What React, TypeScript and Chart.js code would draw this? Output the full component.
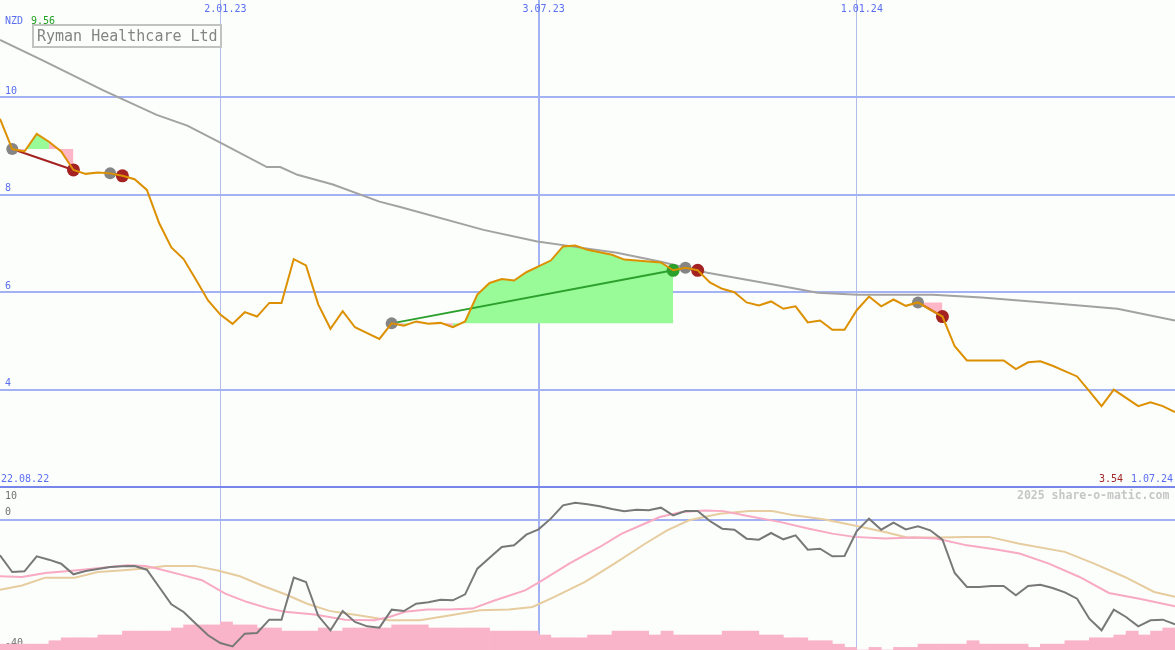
import React, { useEffect, useRef, useState } from 'react';
import { Chart, registerables } from 'chart.js';

Chart.register(...registerables);

// ---------- texts ----------
const currency = 'NZD';
const title = 'Ryman Healthcare Ltd';
const firstDate = '22.08.22';
const lastDate = '1.07.24';
const copyright = '2025 share-o-matic.com';

// ---------- weekly closing prices (week 0 = 22.08.22) ----------
const price = [
  9.56, 8.94, 8.89, 9.25, 9.09, 8.89, 8.51, 8.43, 8.46, 8.44,
  8.39, 8.32, 8.10, 7.42, 6.92, 6.68, 6.26, 5.83, 5.54, 5.35,
  5.59, 5.50, 5.78, 5.78, 6.68, 6.55, 5.75, 5.25, 5.61, 5.28,
  5.16, 5.04, 5.36, 5.31, 5.40, 5.35, 5.37, 5.28, 5.40, 5.95,
  6.19, 6.27, 6.24, 6.41, 6.53, 6.65, 6.94, 6.96, 6.87, 6.82,
  6.77, 6.67, 6.65, 6.63, 6.61, 6.45, 6.50, 6.45, 6.20, 6.07,
  6.00, 5.79, 5.73, 5.81, 5.66, 5.71, 5.38, 5.42, 5.23, 5.23,
  5.63, 5.91, 5.71, 5.85, 5.72, 5.79, 5.64, 5.50, 4.89, 4.60,
  4.60, 4.60, 4.60, 4.42, 4.56, 4.58, 4.49, 4.38, 4.27, 3.97,
  3.66, 4.00, 3.83, 3.66, 3.74, 3.66, 3.54,
];

// vertical grid lines (week index) and their date labels
const gridWeeks = [18, 44, 70];
const gridLabels = ['2.01.23', '3.07.23', '1.01.24'];
const priceTicks = [4, 6, 8, 10];

// long moving average (grey)
const maWeek = [0, 3.4, 8.4, 12.8, 15.3, 18.0, 21.8, 22.9, 24.3, 27.2, 31.0, 32.7, 39.5, 43.9, 47.6, 50.4, 53.9, 57.8, 63.4, 66.8, 70.1, 76.2, 80.2, 85.8, 91.3, 96];
const maValue = [11.18, 10.77, 10.15, 9.64, 9.42, 9.07, 8.57, 8.57, 8.41, 8.21, 7.86, 7.75, 7.28, 7.04, 6.91, 6.81, 6.63, 6.40, 6.15, 5.99, 5.95, 5.95, 5.89, 5.78, 5.66, 5.42];

// trades (week index of entry / exit)
const tradeEntry = [1, 9, 32, 56, 75];
const tradeExit = [6, 10, 55, 57, 77];

// ---------- lower panel ----------
const oscValue = [
  -10.96, -16.07, -15.87, -11.27, -12.29, -13.52, -16.79, -15.77, -15.15, -14.54,
  -14.34, -14.23, -15.36, -20.67, -25.99, -28.34, -31.92, -35.5, -37.85, -38.88,
  -34.99, -34.79, -30.7, -30.7, -17.81, -19.14, -29.5, -33.97, -28.04, -31.41,
  -32.74, -33.15, -27.63, -28.04, -25.79, -25.38, -24.56, -24.77, -22.92, -15.05,
  -11.68, -8.4, -7.89, -4.62, -2.99, 0.29, 4.38, 5.19, 4.68, 4.07,
  3.25, 2.54, 3.05, 2.84, 3.66, 1.31, 2.64, 2.64, -0.43, -2.78,
  -3.09, -5.85, -6.16, -4.11, -6.05, -4.83, -9.22, -8.92, -11.27, -11.17,
  -3.5, 0.29, -3.09, -0.94, -2.99, -2.07, -3.29, -6.16, -16.38, -20.67,
  -20.67, -20.37, -20.37, -23.23, -20.37, -19.96, -20.98, -22.31, -24.25, -30.39,
  -33.97, -27.63, -29.88, -32.74, -30.9, -30.7, -32.13,
];

const signalWeek = [0, 1.8, 3.7, 6.1, 8.6, 10.4, 11.9, 12.9, 14.7, 16.5, 18.4, 20.2, 22.0, 23.3, 25.7, 28.2, 30.6, 31.8, 33.1, 34.9, 36.7, 38.6, 40.4, 42.9, 44.1, 46.5, 49.0, 50.8, 52.7, 53.9, 55.7, 57.6, 59.1, 61.2, 63.7, 66.1, 68.0, 69.8, 72.3, 74.7, 76.5, 79.0, 81.4, 83.3, 85.7, 88.2, 90.6, 93.1, 96];
const signalValue = [-17.4, -17.6, -16.4, -15.6, -14.7, -14.0, -14.2, -15.1, -16.8, -18.6, -22.7, -25.3, -27.3, -28.3, -29.1, -30.7, -30.9, -29.9, -28.3, -27.6, -27.6, -27.3, -24.8, -21.7, -19.1, -13.5, -8.4, -4.3, -1.2, 0.8, 2.3, 2.8, 2.6, 1.0, -0.7, -2.8, -4.3, -5.3, -5.8, -5.5, -5.8, -7.9, -9.2, -10.4, -13.5, -17.6, -22.5, -24.3, -26.6];

const slowWeek = [0, 1.8, 3.7, 6.1, 8.0, 9.8, 11.6, 13.5, 15.9, 17.8, 19.6, 21.4, 23.3, 25.1, 26.9, 29.4, 31.8, 34.3, 36.7, 39.2, 41.6, 43.5, 45.3, 47.8, 50.2, 52.7, 54.5, 56.3, 58.8, 61.2, 63.1, 64.9, 67.4, 69.8, 72.3, 74.1, 76.5, 79.0, 80.8, 83.3, 87.0, 89.4, 91.9, 94.3, 96];
const slowValue = [-21.5, -20.2, -17.8, -17.8, -16.1, -15.6, -15.1, -14.2, -14.2, -15.6, -17.4, -20.2, -22.9, -25.8, -28.0, -29.4, -30.9, -30.9, -29.4, -27.8, -27.6, -26.8, -23.7, -19.1, -13.5, -7.4, -3.3, -0.2, 1.8, 2.6, 2.6, 1.3, 0.0, -1.8, -3.8, -5.5, -5.5, -5.3, -5.3, -7.4, -9.9, -13.5, -17.6, -22.2, -23.7];

// histogram heights above the panel floor (-40), one per week
const histo = [
  1.8, 1.8, 1.8, 1.8, 2.85, 3.75, 3.75, 3.75, 4.6, 4.6,
  5.8, 5.8, 5.8, 5.8, 6.75, 7.7, 7.7, 7.7, 8.6, 7.7,
  7.7, 6.75, 6.75, 5.8, 5.8, 5.8, 6.75, 5.8, 6.75, 6.75,
  6.75, 6.75, 7.7, 7.7, 7.7, 6.75, 6.75, 6.75, 6.75, 6.75,
  5.8, 5.8, 5.8, 5.8, 4.6, 3.75, 3.75, 3.75, 4.6, 4.6,
  5.8, 5.8, 5.8, 4.6, 5.8, 4.6, 4.6, 4.6, 4.6, 5.8,
  5.8, 5.8, 4.6, 4.6, 3.75, 3.75, 2.85, 2.85, 1.8, 0.8,
  0, 0.8, 0, 0.8, 0.8, 1.8, 1.8, 1.8, 1.8, 2.85,
  1.8, 1.8, 1.8, 1.8, 0.8, 1.8, 1.8, 2.85, 2.85, 3.75,
  3.75, 4.6, 5.8, 4.6, 5.8, 6.75,
];
const lowerFloor = -40;
const lowerCeil = 10;
const lowerGrid = [0];
const lowerTicks = [-40, 0];
const lowerTopTicks = [10];

// ---------- styles ----------
const MONO = '"DejaVu Sans Mono", monospace';
const BG = '#fcfefc';
const BLUE = '#5a6ef0';
const GRID = '#a3b2f2';
const GRID_THIN = '#b4bcee';
const ORANGE = '#dc9000';
const MA_GRAY = '#a2a2a2';
const ENTRY_GRAY = '#858585';
const WIN = '#2ca02c';
const LOSS = '#a52222';
const FILL_UP = '#98fb98';
const FILL_DOWN = '#ffb6c6';
const LOWER_TEXT = '#707070';

const W = 1175;
const TOP_H = 487;
const BOT_H = 163;

// axes take no room: the plot fills the whole canvas
const noRoom = (s: any) => {
  if (s.isHorizontal()) s.height = 0;
  else s.width = 0;
  s.paddingTop = 0;
  s.paddingBottom = 0;
  s.paddingLeft = 0;
  s.paddingRight = 0;
};

function xAxis(last: number): any {
  return {
    type: 'linear',
    min: 0,
    max: last,
    offset: false,
    afterBuildTicks: (s: any) => {
      s.ticks = gridWeeks.map((v) => ({ value: v }));
    },
    afterFit: noRoom,
    grid: {
      offset: false,
      drawTicks: false,
      color: (c: any) => (c.index === 1 ? GRID : GRID_THIN),
      lineWidth: (c: any) => (c.index === 1 ? 2 : 1),
    },
    border: { display: false },
    ticks: { display: false },
  };
}

// a label-only axis for the lower panel, drawn above the data
function lowerLabelAxis(values: number[], offset: number, font: any): any {
  return {
    type: 'linear',
    position: 'left',
    min: lowerFloor,
    max: lowerCeil,
    z: 1,
    afterBuildTicks: (s: any) => {
      s.ticks = values.map((v) => ({ value: v }));
    },
    afterFit: noRoom,
    grid: { display: false, drawTicks: false },
    border: { display: false },
    ticks: { mirror: true, padding: 5, labelOffset: offset, color: LOWER_TEXT, font },
  };
}

const baseOptions: any = {
  animation: false,
  responsive: false,
  devicePixelRatio: 1,
  events: [],
  layout: { padding: 0, autoPadding: false },
  plugins: { legend: { display: false }, tooltip: { enabled: false } },
};

export default function App() {
  const topRef = useRef<HTMLCanvasElement>(null);
  const botRef = useRef<HTMLCanvasElement>(null);
  const [gridPx, setGridPx] = useState<number[]>([]);

  useEffect(() => {
    if (!topRef.current || !botRef.current) return;
    const last = price.length - 1;
    const font = { family: MONO, size: 10 };
    const pricePts = price.map((y, x) => ({ x, y }));
    const pts = (xs: number[], ys: number[]) => xs.map((x, i) => ({ x, y: ys[i] }));

    const topSets: any[] = [
      { label: 'price', data: pricePts, borderColor: ORANGE, borderWidth: 2, pointRadius: 0, fill: false, order: 1 },
      { label: 'ma', data: pts(maWeek, maValue), borderColor: MA_GRAY, borderWidth: 2, pointRadius: 0, fill: false, order: 3 },
      {
        label: 'entries',
        data: tradeEntry.map((i) => ({ x: i, y: price[i] })),
        showLine: false,
        pointRadius: 6,
        pointBackgroundColor: ENTRY_GRAY,
        pointBorderWidth: 0,
        order: 2,
      },
      {
        label: 'exits',
        data: tradeExit.map((i) => ({ x: i, y: price[i] })),
        showLine: false,
        pointRadius: 6.5,
        pointBackgroundColor: tradeExit.map((e, k) => (price[e] > price[tradeEntry[k]] ? WIN : LOSS)),
        pointBorderWidth: 0,
        order: 2,
      },
    ];
    tradeEntry.forEach((s, k) => {
      const e = tradeExit[k];
      const level = price[s];
      const win = price[e] > level;
      topSets.push({
        label: 'trade' + k,
        data: [{ x: s, y: level }, { x: e, y: price[e] }],
        borderColor: win ? WIN : LOSS,
        borderWidth: 2,
        pointRadius: 0,
        fill: false,
        order: 4,
      });
      topSets.push({
        label: 'area' + k,
        data: pricePts.slice(s, e + 1),
        borderWidth: 0,
        borderColor: 'rgba(0,0,0,0)',
        pointRadius: 0,
        backgroundColor: FILL_UP,
        fill: { target: { value: level } },
        segment: {
          backgroundColor: (c: any) => (c.p1.parsed.y >= level ? FILL_UP : FILL_DOWN),
        },
        order: 6,
      });
    });

    const top = new Chart(topRef.current, {
      type: 'line',
      data: { datasets: topSets },
      options: {
        ...baseOptions,
        scales: {
          x: xAxis(last),
          y: {
            type: 'linear',
            min: 2,
            max: 12,
            afterBuildTicks: (s: any) => {
              s.ticks = priceTicks.map((v) => ({ value: v }));
            },
            afterFit: noRoom,
            grid: { drawTicks: false, color: GRID, lineWidth: 2 },
            border: { display: false },
            ticks: { mirror: true, padding: 5, labelOffset: -6, color: BLUE, font },
          },
        },
      } as any,
    });

    const bottom = new Chart(botRef.current, {
      type: 'line',
      data: {
        datasets: [
          { label: 'osc', data: oscValue.map((y, x) => ({ x, y })), borderColor: '#787878', borderWidth: 2, pointRadius: 0, fill: false, order: 1 },
          { label: 'signal', data: pts(signalWeek, signalValue), borderColor: '#f8a9c4', borderWidth: 2, pointRadius: 0, fill: false, order: 2 },
          { label: 'slow', data: pts(slowWeek, slowValue), borderColor: '#e6cc9e', borderWidth: 2, pointRadius: 0, fill: false, order: 3 },
          {
            type: 'bar',
            label: 'histo',
            data: histo.map((h, k) => ({ x: k + 0.5, y: [lowerFloor, lowerFloor + h] })),
            backgroundColor: '#fab4ca',
            borderWidth: 0,
            barPercentage: 1,
            categoryPercentage: 1,
            order: 4,
          },
        ],
      } as any,
      options: {
        ...baseOptions,
        scales: {
          x: xAxis(last),
          y: {
            type: 'linear',
            position: 'left',
            min: lowerFloor,
            max: lowerCeil,
            afterBuildTicks: (s: any) => {
              s.ticks = lowerGrid.map((v) => ({ value: v }));
            },
            afterFit: noRoom,
            grid: { drawTicks: false, color: GRID, lineWidth: 2 },
            border: { display: false },
            ticks: { display: false },
          },
          yLow: lowerLabelAxis(lowerTicks, -7, font),
          yTop: lowerLabelAxis(lowerTopTicks, 9, font),
        },
      } as any,
    });

    setGridPx(gridWeeks.map((w) => top.scales.x.getPixelForValue(w)));

    return () => {
      top.destroy();
      bottom.destroy();
    };
  }, []);

  const txt = (extra: React.CSSProperties): React.CSSProperties => ({
    position: 'absolute',
    fontFamily: MONO,
    fontSize: 10,
    lineHeight: '10px',
    whiteSpace: 'nowrap',
    ...extra,
  });

  return (
    <div style={{ position: 'fixed', left: 0, top: 0, width: W, height: TOP_H + BOT_H, background: BG, overflow: 'hidden' }}>
      <canvas ref={topRef} width={W} height={TOP_H} style={{ position: 'absolute', left: 0, top: 0, display: 'block' }} />
      <canvas ref={botRef} width={W} height={BOT_H} style={{ position: 'absolute', left: 0, top: TOP_H, display: 'block' }} />
      <div style={{ position: 'absolute', left: 0, top: TOP_H - 1, width: W, height: 2, background: '#7886ec' }} />

      <span style={txt({ left: 5, top: 16, color: BLUE })}>{currency}</span>
      <span style={txt({ left: 31, top: 16, color: '#22a022' })}>{price[0].toFixed(2)}</span>
      <div
        style={{
          position: 'absolute',
          left: 32,
          top: 24,
          width: 183,
          height: 20,
          border: '2px solid #c2c2c2',
          fontFamily: MONO,
          fontSize: 15,
          lineHeight: '20px',
          color: '#848484',
          paddingLeft: 3,
          boxSizing: 'content-box',
          whiteSpace: 'nowrap',
          overflow: 'hidden',
        }}
      >
        {title}
      </div>

      {gridPx.map((px, i) => (
        <span key={i} style={txt({ left: px - 16, top: 4, color: BLUE })}>
          {gridLabels[i]}
        </span>
      ))}

      <span style={txt({ left: 1, top: 474, color: BLUE })}>{firstDate}</span>
      <span style={txt({ left: 1099, top: 474, color: '#a02828' })}>{price[price.length - 1].toFixed(2)}</span>
      <span style={txt({ left: 1131, top: 474, color: BLUE })}>{lastDate}</span>
      <span style={txt({ left: 1017, top: 490, fontSize: 11.5, lineHeight: '11.5px', fontWeight: 'bold', color: '#c6c6c6' })}>
        {copyright}
      </span>
    </div>
  );
}
